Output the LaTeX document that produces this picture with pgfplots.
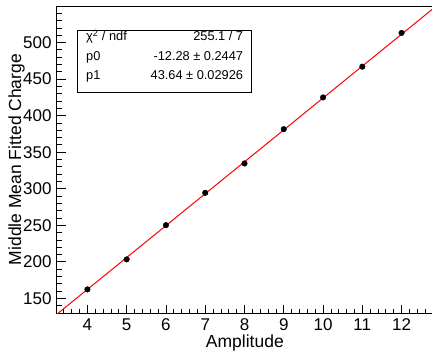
\documentclass[border=0pt]{standalone}
\usepackage{fontspec}
\setmainfont{Liberation Sans}
\usepackage{pgfplots}
\pgfplotsset{compat=1.18}
\begin{document}
\begin{tikzpicture}
\useasboundingbox (0,0) rectangle (432bp,352bp);
\begin{axis}[
  at={(56bp,39bp)}, anchor=south west,
  scale only axis, width=377bp, height=307bp,
  xmin=3.2, xmax=12.8, ymin=130, ymax=550,
  tick pos=left, tick align=inside,
  xtick={4,5,...,12}, ytick={150,200,...,500},
  major tick length=0pt, minor tick length=0pt,
  axis line style={black, line width=0.9pt},
  /pgf/number format/assume math mode=true,
  ticklabel style={font=\fontsize{17bp}{20bp}\selectfont},
  xticklabel style={yshift=-2bp},
  yticklabel style={xshift=-1bp},
  xlabel={Amplitude}, ylabel={Middle Mean Fitted Charge},
  every axis x label/.style={at={(axis description cs:0.501,-0.114)}, anchor=base, font=\fontsize{17.5bp}{20bp}\selectfont},
  every axis y label/.style={at={(axis description cs:-0.0928,0.5)}, anchor=base, rotate=90, font=\fontsize{17.5bp}{20bp}\selectfont},
]
% ticks
\pgfplotsinvokeforeach{3.4,3.6,3.8,4.2,4.4,4.6,4.8,5.2,5.4,5.6,5.8,6.2,6.4,6.6,6.8,7.2,7.4,7.6,7.8,8.2,8.4,8.6,8.8,9.2,9.4,9.6,9.8,10.2,10.4,10.6,10.8,11.2,11.4,11.6,11.8,12.2,12.4,12.6}{
  \draw[black, line width=0.8pt] (axis cs:#1,130) -- ++(0bp,4.5bp);}
\pgfplotsinvokeforeach{4,5,6,7,8,9,10,11,12}{
  \draw[black, line width=0.8pt] (axis cs:#1,130) -- ++(0bp,8.5bp);}
\pgfplotsinvokeforeach{140,160,170,180,190,210,220,230,240,260,270,280,290,310,320,330,340,360,370,380,390,410,420,430,440,460,470,480,490,510,520,530,540}{
  \draw[black, line width=0.8pt] (axis cs:3.2,#1) -- ++(5.5bp,0bp);}
\pgfplotsinvokeforeach{150,200,250,300,350,400,450,500}{
  \draw[black, line width=0.8pt] (axis cs:3.2,#1) -- ++(10bp,0bp);}
\addplot[red, line width=1bp] coordinates {(3.2,127.368) (12.8,546.312)};
\addplot[only marks, mark=*, mark size=2.8bp, black] coordinates {
(4,162.3) (5,203.3) (6,250.2) (7,294.4) (8,334.6) (9,381.5) (10,424.9) (11,467.0) (12,513.2)};
\node[draw=black, line width=0.8bp, fill=white, anchor=north west, inner sep=0pt,
  minimum width=174bp, minimum height=62bp] (box) at (axis description cs:0.0568,0.9225) {};
\end{axis}
\begin{scope}[font=\fontsize{12.8bp}{15bp}\selectfont]
\node[anchor=base west, inner sep=0pt] at (86bp,352bp-41bp) {χ\textsuperscript{2} / ndf};
\node[anchor=base east, inner sep=0pt] at (243.3bp,352bp-41bp) {255.1 / 7};
\node[anchor=base west, inner sep=0pt] at (86bp,352bp-60.5bp) {p0};
\node[anchor=base east, inner sep=0pt] at (243.3bp,352bp-60.5bp) {-12.28 ± 0.2447};
\node[anchor=base west, inner sep=0pt] at (86bp,352bp-80bp) {p1};
\node[anchor=base east, inner sep=0pt] at (243.3bp,352bp-80bp) {43.64 ± 0.02926};
\end{scope}
\end{tikzpicture}
\end{document}
